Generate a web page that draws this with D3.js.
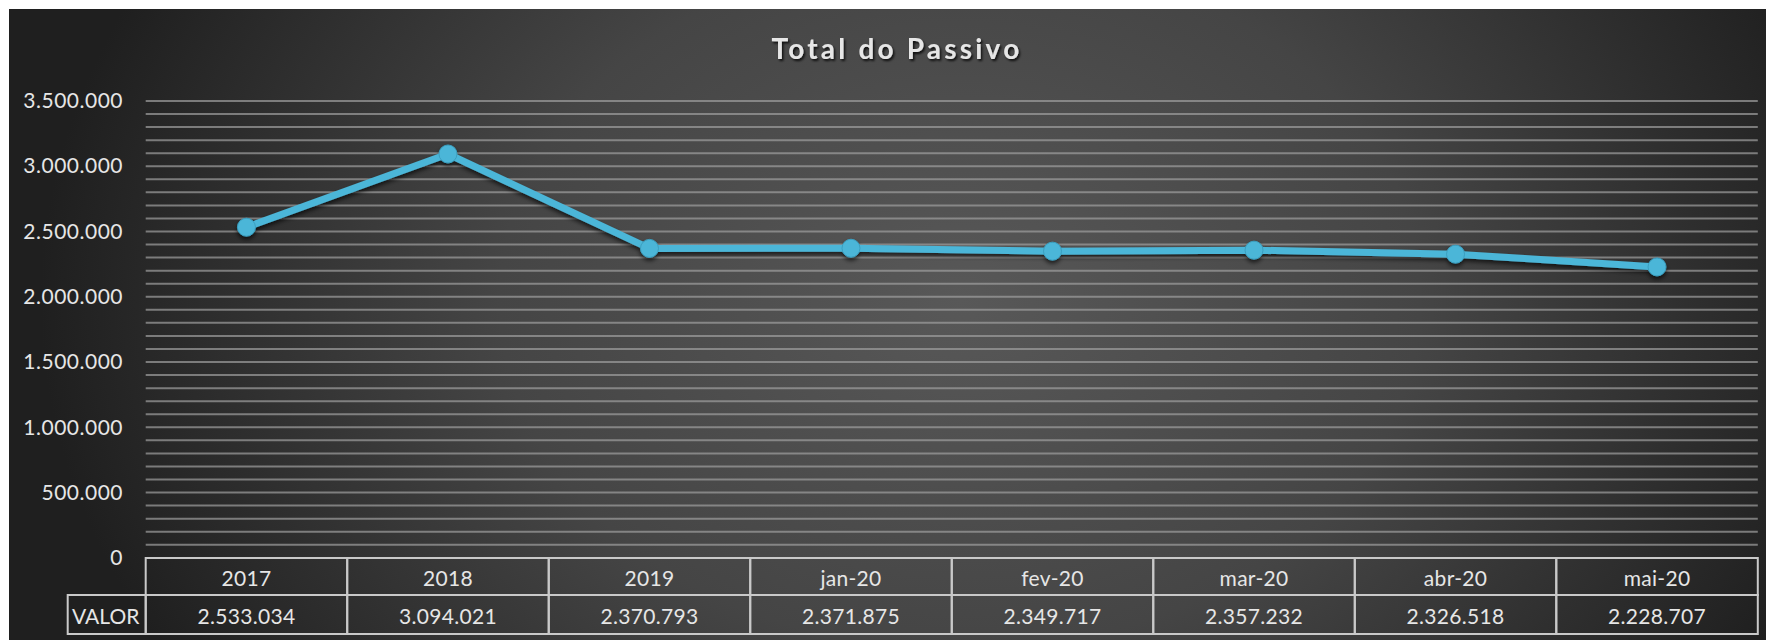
<!DOCTYPE html>
<html>
<head>
<meta charset="utf-8">
<script src="https://cdn.jsdelivr.net/npm/d3@7"></script>
<style>
	html, body { margin:0; padding:0; background:#ffffff; }
	svg { display:block; }
	text { font-family: Lato, "Open Sans", sans-serif; fill:#e6e6e6; }
</style>
</head>
<body>
<div id="svgContainer"></div>
<script>
// data
var categories = ["2017", "2018", "2019", "jan-20", "fev-20", "mar-20", "abr-20", "mai-20"];
var values = [2533034, 3094021, 2370793, 2371875, 2349717, 2357232, 2326518, 2228707];
var yTicks = [0, 500000, 1000000, 1500000, 2000000, 2500000, 3000000, 3500000];
var gridStep = 100000;
var rowLabel = "VALOR";
var title = "Total do Passivo";

var Chart = (function () {
	const width = 1766, height = 640;
	const plot = {left:145.7, right:1757.8, top:101, bottom:557.8}; // plot area
	const table = {row1:558, row2:595, bottom:634, labelLeft:67.7};
	const lineColor = "#4cb6d8";
	const fontSize = 21;
	var xScale, yScale, svg;

	// pt-BR style number format : 2.533.034
	var locale = d3.formatLocale({decimal:",", thousands:".", grouping:[3], currency:["",""]});
	var fmt = locale.format(",d");

	function drawBackground() {
		var defs = svg.append("defs");
		var grad = defs.append("radialGradient")
			.attr("id", "bg")
			.attr("gradientUnits", "userSpaceOnUse")
			.attr("cx", 0).attr("cy", 0).attr("r", 1)
			.attr("gradientTransform", "translate(960,300) scale(920,700)");
		grad.append("stop").attr("offset", 0).attr("stop-color", "#585858");
		grad.append("stop").attr("offset", 0.5).attr("stop-color", "#454545");
		grad.append("stop").attr("offset", 1).attr("stop-color", "#1f1f1f");

		var sh = defs.append("filter").attr("id", "shadow")
			.attr("x", "-5%").attr("y", "-20%").attr("width", "110%").attr("height", "140%");
		sh.append("feDropShadow").attr("dx", 0).attr("dy", 3).attr("stdDeviation", 2)
			.attr("flood-color", "#000").attr("flood-opacity", 0.65);

		var tsh = defs.append("filter").attr("id", "tshadow");
		tsh.append("feDropShadow").attr("dx", 1.5).attr("dy", 2).attr("stdDeviation", 1.2)
			.attr("flood-color", "#000").attr("flood-opacity", 0.8);

		svg.append("rect")
			.attr("x", 9).attr("y", 9)
			.attr("width", width - 9).attr("height", height - 9)
			.attr("fill", "url(#bg)");
	}

	function drawGrid() {
		var grid = d3.range(gridStep, yTicks[yTicks.length - 1] + 1, gridStep);
		svg.append("g").attr("class", "grid")
			.selectAll("line")
			.data(grid)
			.enter()
			.append("line")
			.attr("x1", plot.left).attr("x2", plot.right)
			.attr("y1", function (d) { return yScale(d); })
			.attr("y2", function (d) { return yScale(d); })
			.attr("stroke", "#a0a0a0")
			.attr("stroke-opacity", 0.7)
			.attr("stroke-width", 2);

		// y axis labels
		var yAxis = d3.axisLeft(yScale)
			.tickValues(yTicks)
			.tickFormat(function (d) { return fmt(d); })
			.tickSize(0)
			.tickPadding(0);
		var g = svg.append("g")
			.attr("class", "y axis")
			.attr("transform", "translate(123,0)")
			.call(yAxis);
		g.select(".domain").remove();
		g.selectAll("text")
			.attr("font-family", "Lato, 'Open Sans', sans-serif")
			.attr("font-size", fontSize)
			.attr("letter-spacing", 0.5)
			.attr("fill", "#e6e6e6");
	}

	function drawTable() {
		var t = svg.append("g").attr("class", "table");
		var stroke = "#c9c9c9";
		var bw = xScale.bandwidth();

		t.selectAll("rect.cat")
			.data(categories)
			.enter()
			.append("rect")
			.attr("class", "cat")
			.attr("x", function (d) { return xScale(d); })
			.attr("y", table.row1)
			.attr("width", bw)
			.attr("height", table.row2 - table.row1)
			.attr("fill", "none").attr("stroke", stroke).attr("stroke-width", 2);

		t.selectAll("rect.val")
			.data(categories)
			.enter()
			.append("rect")
			.attr("class", "val")
			.attr("x", function (d) { return xScale(d); })
			.attr("y", table.row2)
			.attr("width", bw)
			.attr("height", table.bottom - table.row2)
			.attr("fill", "none").attr("stroke", stroke).attr("stroke-width", 2);

		t.append("rect")
			.attr("x", table.labelLeft).attr("y", table.row2)
			.attr("width", plot.left - table.labelLeft)
			.attr("height", table.bottom - table.row2)
			.attr("fill", "none").attr("stroke", stroke).attr("stroke-width", 2);

		t.selectAll("text.cat")
			.data(categories)
			.enter()
			.append("text")
			.attr("class", "cat")
			.attr("x", function (d) { return xScale(d) + bw / 2; })
			.attr("y", (table.row1 + table.row2) / 2 + 1)
			.attr("text-anchor", "middle")
			.attr("dominant-baseline", "central")
			.attr("font-size", fontSize)
			.attr("letter-spacing", 0.3)
			.text(function (d) { return d; });

		t.selectAll("text.val")
			.data(values)
			.enter()
			.append("text")
			.attr("class", "val")
			.attr("x", function (d, i) { return xScale(categories[i]) + bw / 2; })
			.attr("y", (table.row2 + table.bottom) / 2 + 1)
			.attr("text-anchor", "middle")
			.attr("dominant-baseline", "central")
			.attr("font-size", fontSize)
			.attr("letter-spacing", 0.3)
			.text(function (d) { return fmt(d); });

		t.append("text")
			.attr("x", (table.labelLeft + plot.left) / 2 - 1)
			.attr("y", (table.row2 + table.bottom) / 2 + 1)
			.attr("text-anchor", "middle")
			.attr("dominant-baseline", "central")
			.attr("font-size", fontSize)
			.text(rowLabel);
	}

	function drawLine() {
		var data = values.map(function (v, i) { return {x:categories[i], y:v}; });
		var bw = xScale.bandwidth();
		var lineFunction = d3.line()
			.x(function (d) { return xScale(d.x) + bw / 2; })
			.y(function (d) { return yScale(d.y); })
			.curve(d3.curveLinear);

		var g = svg.append("g").attr("filter", "url(#shadow)");
		g.append("path")
			.datum(data)
			.attr("d", lineFunction)
			.attr("fill", "none")
			.attr("stroke", lineColor)
			.attr("stroke-width", 7)
			.attr("stroke-linejoin", "round");

		g.selectAll("circle")
			.data(data)
			.enter()
			.append("circle")
			.attr("cx", function (d) { return xScale(d.x) + bw / 2; })
			.attr("cy", function (d) { return yScale(d.y); })
			.attr("r", 9)
			.attr("fill", lineColor)
			.attr("stroke", "#3a9fc0")
			.attr("stroke-width", 1);
	}

	return {
		init : function () {
			xScale = d3.scaleBand().domain(categories).range([plot.left, plot.right]).padding(0);
			yScale = d3.scaleLinear().domain([0, yTicks[yTicks.length - 1]]).range([plot.bottom, plot.top]);

			svg = d3.select("#svgContainer").append("svg")
				.attr("width", width).attr("height", height);

			drawBackground();
			drawGrid();
			drawTable();
			drawLine();

			svg.append("text")
				.attr("x", 897).attr("y", 59)
				.attr("text-anchor", "middle")
				.attr("font-size", 28)
				.attr("font-weight", "bold")
				.attr("letter-spacing", 3.2)
				.attr("fill", "#f2f2f2")
				.attr("filter", "url(#tshadow)")
				.text(title);
		}
	};
})();

Chart.init();
</script>
</body>
</html>
